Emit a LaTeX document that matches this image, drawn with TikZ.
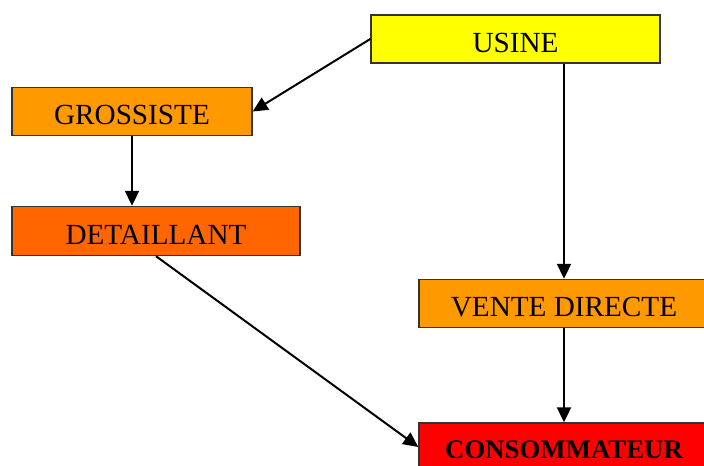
\documentclass[tikz,border=0pt]{standalone}
\usepackage{fontspec}
\setmainfont{Liberation Serif}
\usepackage{tikz}
\usetikzlibrary{arrows.meta}
\definecolor{jaune}{HTML}{FFFF00}
\definecolor{orangeclair}{HTML}{FF9900}
\definecolor{orangefonce}{HTML}{FF6600}
\definecolor{rouge}{HTML}{FF0000}

\begin{document}
\begin{tikzpicture}[x=0.5pt, y=-0.5pt,
                box/.style={draw=black!80, line width=0.7pt, rectangle, minimum width=144.5pt, minimum height=24pt, inner sep=0pt, text height=13.2pt, text depth=0pt, font=\fontsize{14.6}{17}\selectfont},
                flow/.style={black, line width=1pt, -{Triangle[length=7.5pt, width=7pt]}}]
                \clip (0,0) rectangle (704,465);
                \node[box, fill=jaune] (usine) at (515.5,39) {USINE};
                \node[box, fill=orangeclair, minimum width=120pt] (grossiste) at (132,111.5) {GROSSISTE};
                \node[box, fill=orangefonce, minimum width=144pt, minimum height=24.5pt] (detaillant) at (156,231) {DETAILLANT};
                \node[box, fill=orangeclair, minimum width=145pt] (vente) at (564,303.5) {VENTE DIRECTE};
                \node[box, fill=rouge, minimum width=145pt, text height=11.85pt, font=\fontsize{13.4}{16}\selectfont\bfseries] (conso) at (564,447) {CONSOMMATEUR};
                \draw[flow] (usine.west) -- (grossiste.east);
                \draw[flow] (grossiste.south) -- (grossiste.south |- detaillant.north);
                \draw[flow] (vente.north |- usine.south) -- (vente.north);
                \draw[flow] (vente.south) -- (conso.north);
                \draw[flow] (detaillant.south) -- (conso.west);
            \end{tikzpicture}
\end{document}
